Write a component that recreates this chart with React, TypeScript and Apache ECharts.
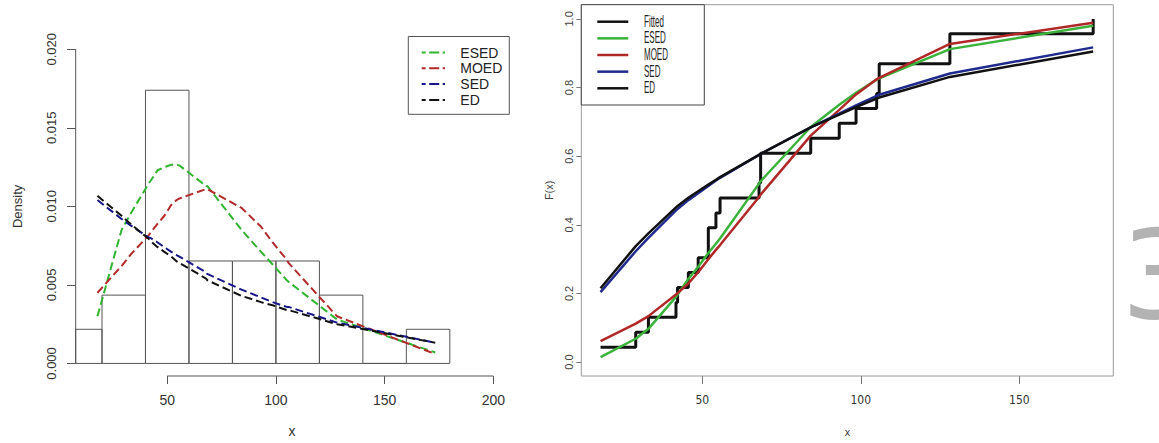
import React, { useEffect, useRef } from "react";
import * as echarts from "echarts";

// ---------- data ----------
// histogram (left panel)
const histBreaks = [0, 20, 40, 60, 80, 100, 120, 140, 160, 180];
const histCounts = [1, 2, 8, 3, 3, 3, 2, 0, 1];

// observed sample (read from the ECDF steps, right panel)
const sample = [
  17.9, 29.0, 33.0, 41.7, 42.2, 45.6, 48.7, 51.9, 51.9, 54.3, 55.6, 67.9, 68.4,
  68.4, 84.2, 93.2, 98.5, 105.0, 105.8, 105.8, 128.1, 128.1, 173.3,
];

// points at which the fitted curves are drawn
const evalX = [
  17.9, 29.0, 33.0, 41.7, 42.2, 45.6, 48.7, 51.9, 54.3, 55.6, 67.9, 68.4, 84.2,
  93.2, 98.5, 105.0, 105.8, 128.1, 173.3,
];

// fitted densities
const pdfESED = [0.003, 0.0085, 0.0095, 0.0115, 0.0116, 0.0123, 0.0125, 0.01265, 0.01265, 0.0126, 0.0113, 0.0113, 0.0085, 0.0071, 0.0063, 0.0053, 0.0052, 0.0028, 0.0007];
const pdfMOED = [0.0045, 0.0062, 0.0069, 0.0082, 0.0083, 0.0089, 0.0094, 0.0101, 0.0104, 0.0105, 0.0111, 0.0111, 0.0099, 0.0087, 0.0077, 0.0066, 0.0064, 0.003, 0.0006];
const pdfSED = [0.0104, 0.0092, 0.0088, 0.008, 0.008, 0.0077, 0.0074, 0.0071, 0.0069, 0.0068, 0.0058, 0.0057, 0.0047, 0.0042, 0.0039, 0.0036, 0.0036, 0.0026, 0.00132];
const pdfED = [0.01067, 0.0094, 0.0089, 0.0079, 0.0078, 0.0074, 0.0071, 0.0068, 0.0065, 0.0064, 0.0054, 0.0053, 0.0043, 0.0039, 0.0037, 0.0034, 0.0034, 0.0025, 0.00132];

// fitted distribution functions
const cdfESED = [0.0145, 0.068, 0.097, 0.19, 0.197, 0.242, 0.278, 0.318, 0.345, 0.36, 0.52, 0.527, 0.685, 0.75, 0.785, 0.823, 0.827, 0.912, 0.98];
const cdfMOED = [0.061, 0.112, 0.134, 0.197, 0.201, 0.229, 0.262, 0.3, 0.327, 0.341, 0.481, 0.488, 0.66, 0.735, 0.78, 0.824, 0.828, 0.927, 0.989];
const cdfSED = [0.204, 0.323, 0.362, 0.442, 0.446, 0.472, 0.492, 0.513, 0.529, 0.537, 0.604, 0.607, 0.684, 0.724, 0.748, 0.776, 0.779, 0.841, 0.917];
const cdfED = [0.215, 0.338, 0.375, 0.451, 0.455, 0.479, 0.498, 0.517, 0.531, 0.539, 0.604, 0.607, 0.684, 0.721, 0.743, 0.768, 0.771, 0.831, 0.905];

// names and tick labels
const leftNames = ["ESED", "MOED", "SED", "ED"];
const rightNames = ["Fitted", "ESED", "MOED", "SED", "ED"];
const leftXTicks = [50, 100, 150, 200];
const leftYTicks = [0, 0.005, 0.01, 0.015, 0.02];
const rightXTicks = [50, 100, 150];
const rightYTicks = [0, 0.2, 0.4, 0.6, 0.8, 1.0];

// ---------- styles ----------
const leftColors = ["#2fb52f", "#b22a2a", "#16168a", "#111111"];
const rightColors = ["#111111", "#3bb33b", "#b02828", "#1f2a8c", "#111111"];
const SANS = '"Liberation Sans", Arial, sans-serif';
const NARROW = '"Liberation Sans Narrow", "DejaVu Sans Condensed", "Liberation Sans", sans-serif';

export default function App() {
  const ref = useRef<HTMLDivElement>(null);

  useEffect(() => {
    if (!ref.current) return;
    const chart = echarts.init(ref.current, undefined, { renderer: "svg" });

    const LX = [7.9, 206.9];
    const LY = [-0.0008, 0.0208];
    const RX = [11.83, 179.65];
    const RY = [-0.0405, 1.0414];

    const n = sample.length;
    const histData = histCounts.map((c, i) => [
      histBreaks[i],
      histBreaks[i + 1],
      c / (n * (histBreaks[i + 1] - histBreaks[i])),
    ]);

    const sorted = [...sample].sort((a, b) => a - b);
    const uniq = Array.from(new Set(sorted));
    const ecdf = uniq.map((v) => [v, sorted.filter((s) => s <= v).length / n]);

    const leftPdfs = [pdfESED, pdfMOED, pdfSED, pdfED];
    const rightCdfs = [cdfESED, cdfMOED, cdfSED, cdfED];

    const axisGrey = "#555";

    const option: any = {
      animation: false,
      backgroundColor: "#ffffff",
      grid: [
        { left: 75.7, top: 36.7, width: 432.6, height: 343.7, show: false },
        {
          left: 581.3,
          top: 4.7,
          width: 532,
          height: 373.6,
          show: true,
          borderColor: "#9a9a9a",
          borderWidth: 1,
        },
      ],
      xAxis: [
        {
          type: "value",
          gridIndex: 0,
          min: LX[0],
          max: LX[1],
          axisLine: { show: false, onZero: false },
          splitLine: { show: false },
          axisTick: { show: true, length: 8, customValues: leftXTicks, lineStyle: { color: axisGrey } },
          axisLabel: { customValues: leftXTicks, margin: 17, fontSize: 14, color: "#333", fontFamily: SANS },
          name: "x",
          nameLocation: "middle",
          nameGap: 48,
          nameTextStyle: { fontSize: 14, color: "#333", fontFamily: SANS },
        },
        {
          type: "value",
          gridIndex: 1,
          min: RX[0],
          max: RX[1],
          axisLine: { show: false, onZero: false },
          splitLine: { show: false },
          axisTick: { show: true, length: 8, customValues: rightXTicks, lineStyle: { color: "#777" } },
          axisLabel: { customValues: rightXTicks, margin: 18, fontSize: 12, color: "#333", fontFamily: NARROW },
          name: "x",
          nameLocation: "middle",
          nameGap: 51,
          nameTextStyle: { fontSize: 11, color: "#444", fontFamily: NARROW },
        },
      ],
      yAxis: [
        {
          type: "value",
          gridIndex: 0,
          min: LY[0],
          max: LY[1],
          axisLine: { show: false, onZero: false },
          splitLine: { show: false },
          axisTick: { show: true, length: 8.7, customValues: leftYTicks, lineStyle: { color: axisGrey } },
          axisLabel: {
            customValues: leftYTicks,
            rotate: 90,
            margin: 18,
            fontSize: 13,
            color: "#333",
            fontFamily: SANS,
            formatter: (v: number) => v.toFixed(3),
          },
          name: "Density",
          nameLocation: "middle",
          nameRotate: 90,
          nameGap: 52,
          nameTextStyle: { fontSize: 13, color: "#333", fontFamily: SANS },
        },
        {
          type: "value",
          gridIndex: 1,
          min: RY[0],
          max: RY[1],
          axisLine: { show: false, onZero: false },
          splitLine: { show: false },
          axisTick: { show: true, length: 5, customValues: rightYTicks, lineStyle: { color: "#777" } },
          axisLabel: {
            customValues: rightYTicks,
            rotate: 90,
            margin: 7,
            fontSize: 11,
            color: "#444",
            fontFamily: SANS,
            formatter: (v: number) => v.toFixed(1),
          },
          name: "F(x)",
          nameLocation: "middle",
          nameRotate: 90,
          nameGap: 27,
          nameTextStyle: { fontSize: 11, color: "#444", fontFamily: SANS },
        },
      ],
      series: [
        {
          type: "custom",
          name: "hist",
          xAxisIndex: 0,
          yAxisIndex: 0,
          silent: true,
          data: histData,
          encode: { x: [0, 1], y: 2 },
          renderItem: (params: any, api: any) => {
            const p0 = api.coord([api.value(0), api.value(2)]);
            const p1 = api.coord([api.value(1), 0]);
            const shape = echarts.graphic.clipRectByRect(
              { x: p0[0], y: p0[1], width: p1[0] - p0[0], height: p1[1] - p0[1] },
              params.coordSys
            );
            if (!shape) return null;
            return {
              type: "rect",
              shape,
              style: { fill: "none", stroke: axisGrey, lineWidth: 1 },
            };
          },
        },
        // left axis lines (R style: only between first and last tick)
        {
          type: "line",
          name: "x-axis-line",
          xAxisIndex: 0,
          yAxisIndex: 0,
          silent: true,
          clip: false,
          symbol: "none",
          data: [
            [leftXTicks[0], LY[0]],
            [leftXTicks[leftXTicks.length - 1], LY[0]],
          ],
          lineStyle: { color: axisGrey, width: 1 },
        },
        {
          type: "line",
          name: "y-axis-line",
          xAxisIndex: 0,
          yAxisIndex: 0,
          silent: true,
          clip: false,
          symbol: "none",
          data: [
            [LX[0], leftYTicks[0]],
            [LX[0], leftYTicks[leftYTicks.length - 1]],
          ],
          lineStyle: { color: axisGrey, width: 1 },
        },
        ...leftNames.map((name, i) => ({
          type: "line",
          name,
          xAxisIndex: 0,
          yAxisIndex: 0,
          silent: true,
          symbol: "none",
          data: evalX.map((x, j) => [x, leftPdfs[i][j]]),
          lineStyle: { color: leftColors[i], width: 2, type: [8, 4] },
          itemStyle: { color: leftColors[i] },
        })),
        {
          type: "line",
          name: "Fitted",
          xAxisIndex: 1,
          yAxisIndex: 1,
          silent: true,
          symbol: "none",
          step: "end",
          data: ecdf,
          lineStyle: { color: rightColors[0], width: 3 },
          itemStyle: { color: rightColors[0] },
        },
        ...rightNames.slice(1).map((name, i) => ({
          type: "line",
          name,
          xAxisIndex: 1,
          yAxisIndex: 1,
          silent: true,
          symbol: "none",
          data: evalX.map((x, j) => [x, rightCdfs[i][j]]),
          lineStyle: { color: rightColors[i + 1], width: 2.5 },
          itemStyle: { color: rightColors[i + 1] },
        })),
      ],
      graphic: [
        {
          type: "group",
          x: 408.3,
          y: 36.5,
          z: 100,
          children: [
            {
              type: "rect",
              shape: { x: 0, y: 0, width: 101, height: 77.8 },
              style: { fill: "#ffffff", stroke: axisGrey, lineWidth: 1 },
            },
            ...leftNames.flatMap((name, i) => [
              {
                type: "line",
                shape: { x1: 13.4, y1: 16 + i * 15.8, x2: 36.7, y2: 16 + i * 15.8 },
                style: { stroke: leftColors[i], lineWidth: 2, lineDash: [10, 3.5], lineDashOffset: 6 },
              },
              {
                type: "text",
                x: 52,
                y: 16 + i * 15.8,
                style: {
                  text: name,
                  fontSize: 14,
                  fontFamily: SANS,
                  fill: "#222",
                  verticalAlign: "middle",
                  align: "left",
                },
              },
            ]),
          ],
        },
        {
          type: "group",
          x: 581.3,
          y: 4.7,
          z: 100,
          children: [
            {
              type: "rect",
              shape: { x: 0, y: 0, width: 123, height: 100.3 },
              style: { fill: "#ffffff", stroke: "#444", lineWidth: 1 },
            },
            ...rightNames.flatMap((name, i) => [
              {
                type: "line",
                shape: { x1: 16, y1: 17 + i * 16.65, x2: 47, y2: 17 + i * 16.65 },
                style: { stroke: rightColors[i], lineWidth: 2.5 },
              },
              {
                type: "text",
                x: 62.7,
                y: 17 + i * 16.65,
                scaleX: 0.5,
                style: {
                  text: name,
                  fontSize: 16,
                  fontFamily: SANS,
                  fill: "#222",
                  verticalAlign: "middle",
                  align: "left",
                },
              },
            ]),
          ],
        },
        {
          type: "text",
          x: 1121,
          y: 275,
          z: 100,
          style: {
            text: "3",
            fontSize: 123,
            fontFamily: '"DejaVu Sans", sans-serif',
            fill: "#b3b3b3",
            verticalAlign: "middle",
            align: "left",
          },
        },
      ],
    };

    chart.setOption(option);
    return () => {
      chart.dispose();
    };
  }, []);

  return (
    <div
      ref={ref}
      style={{ position: "absolute", left: 0, top: 0, width: 1159, height: 443, background: "#fff" }}
    />
  );
}
